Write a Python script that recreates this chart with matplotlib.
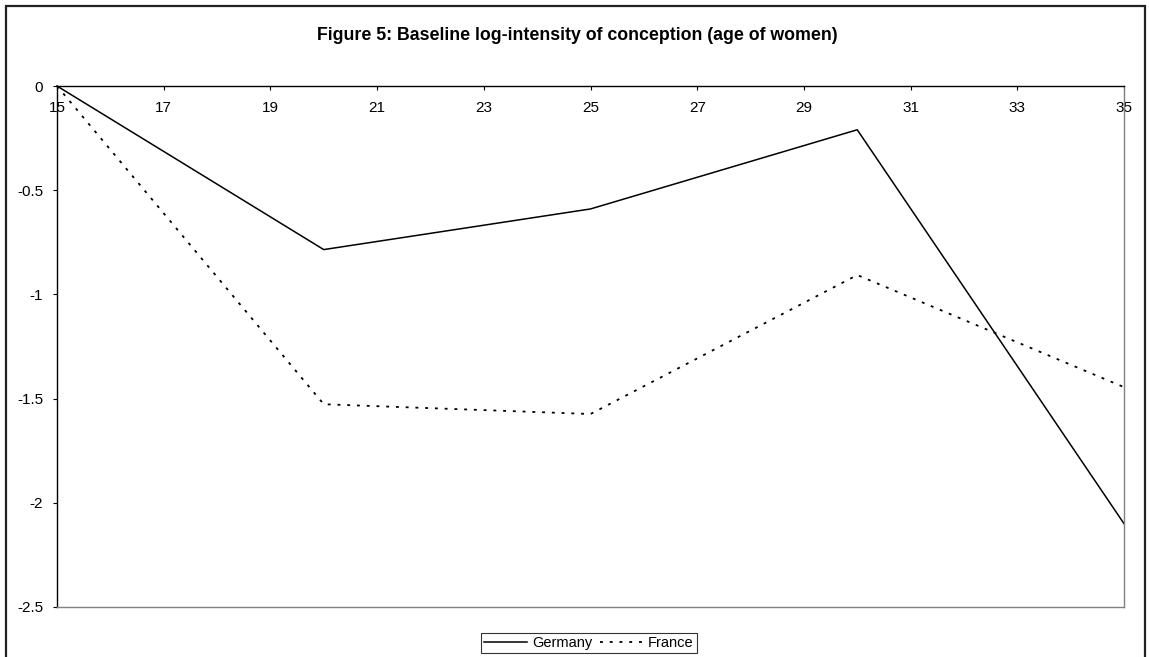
import matplotlib
matplotlib.use("Agg")
import matplotlib.pyplot as plt
from matplotlib.patches import Rectangle

ages = [15, 20, 25, 30, 35]
germany = [0.0, -0.785, -0.59, -0.21, -2.10]
france = [0.0, -1.527, -1.574, -0.907, -1.445]
x_ticks = [15, 17, 19, 21, 23, 25, 27, 29, 31, 33, 35]
y_ticks = [0, -0.5, -1, -1.5, -2, -2.5]
y_labels = ["0", "-0.5", "-1", "-1.5", "-2", "-2.5"]
title = "Figure 5: Baseline log-intensity of conception (age of women)"

plt.rcParams['font.family'] = ['Liberation Sans', 'DejaVu Sans']

fig = plt.figure(figsize=(11.49, 6.57), dpi=100)
ax = fig.add_axes([57/1149, 1-607/657, (1124-57)/1149, (607-86)/657])

ax.plot(ages, germany, color='black', lw=1.1, clip_on=False, label='Germany')
ax.plot(ages, france, color='black', lw=1.3, ls=(0, (1.6, 3.8)), clip_on=False, label='France')

ax.set_xlim(15, 35)
ax.set_ylim(-2.5, 0)

ax.spines['bottom'].set_position(('data', 0))
ax.spines['bottom'].set_color('black')
ax.spines['top'].set_position(('data', -2.5))
ax.spines['top'].set_color('#808080')
ax.spines['right'].set_color('#808080')
ax.spines['left'].set_color('black')
for s in ax.spines.values():
    s.set_linewidth(1.0)

ax.set_xticks(x_ticks)
ax.set_xticklabels([str(v) for v in x_ticks])
ax.set_yticks(y_ticks)
ax.set_yticklabels(y_labels)
ax.tick_params(axis='x', direction='out', length=3, width=0.8, pad=8, labelsize=11)
ax.tick_params(axis='y', direction='out', length=3, width=0.8, pad=7, labelsize=11)

fig.text(577/1149, 1-36/657, title, ha='center', va='center', fontsize=12.8, fontweight='bold')

leg = fig.legend(loc='center', bbox_to_anchor=(589/1149, 1-643/657), ncol=2, frameon=True,
                 fancybox=False, fontsize=10.5, handlelength=2.9, handletextpad=0.4,
                 columnspacing=0.5, borderpad=0.2, borderaxespad=0)
leg.get_frame().set_edgecolor('black')
leg.get_frame().set_linewidth(0.8)

fig.patches.append(Rectangle((6/1149, -0.05), (1145-6)/1149, 1.05 - 6/657, transform=fig.transFigure,
                             fill=False, edgecolor='#222222', lw=1.6))

fig.savefig('out.png', dpi=100)
